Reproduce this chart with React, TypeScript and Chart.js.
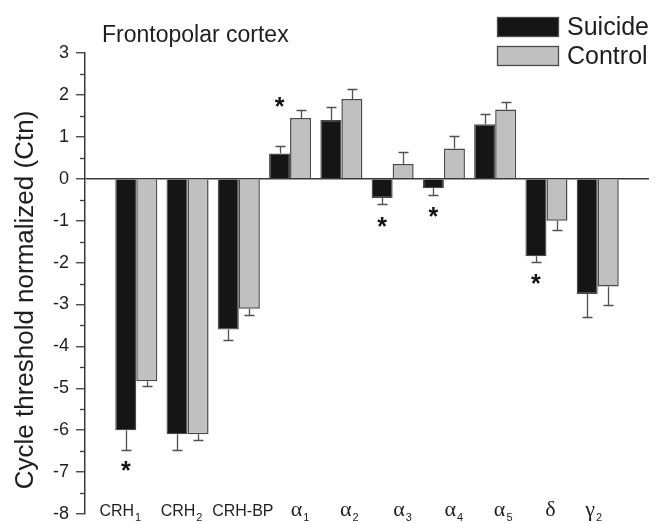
import React, { useEffect, useRef } from 'react';
import { Chart, registerables } from 'chart.js';

Chart.register(...registerables);

// ---------- data ----------
const categoryBase = ['CRH', 'CRH', 'CRH-BP', 'α', 'α', 'α', 'α', 'α', 'δ', 'γ'];
const categorySub = ['1', '2', '', '1', '2', '3', '4', '5', '', '2'];
const suicideValues = [-6.0, -6.1, -3.6, 0.6, 1.4, -0.46, -0.23, 1.3, -1.85, -2.75];
const suicideErrors = [0.48, 0.38, 0.24, 0.18, 0.3, 0.14, 0.16, 0.25, 0.14, 0.55];
const controlValues = [-4.83, -6.1, -3.1, 1.45, 1.9, 0.35, 0.72, 1.65, -1.0, -2.57];
const controlErrors = [0.12, 0.14, 0.15, 0.2, 0.23, 0.29, 0.31, 0.19, 0.23, 0.45];
const asteriskValues = [-6.85, null, null, 1.82, null, -1.04, -0.79, null, -2.4, null];
const seriesNames = ['Suicide', 'Control'];
const yMin = -8;
const yMax = 3;
const titleText = 'Frontopolar cortex';
const yTitleText = 'Cycle threshold normalized (Ctn)';

// ---------- style ----------
const SANS = "'Liberation Sans', Arial, Helvetica, sans-serif";
const SERIF = "'Liberation Serif', 'Times New Roman', serif";
const TEXT = '#1e1e1e';
const AXIS = '#3a3a3a';
const BLACK_FILL = '#151515';
const GRAY_FILL = '#c0c0c0';
const BAR_BORDER = '#4a4a4a';
const labelShift = [-16, -6, 4, 10, 8, 10, 10, 8, 4, -4];

const decorPlugin = {
  id: 'decor',
  afterDatasetsDraw(chart: any) {
    const ctx = chart.ctx;
    const ys = chart.scales.y;
    const sets: [number[], number[]][] = [
      [suicideValues, suicideErrors],
      [controlValues, controlErrors],
    ];
    ctx.save();
    ctx.strokeStyle = '#505050';
    ctx.lineWidth = 1.3;
    sets.forEach(([vals, errs], di) => {
      const meta = chart.getDatasetMeta(di);
      meta.data.forEach((bar: any, i: number) => {
        const v = vals[i];
        const e = errs[i];
        const end = v >= 0 ? v + e : v - e;
        const x = Math.round(bar.x) + 0.5;
        const y0 = ys.getPixelForValue(v);
        const y1 = Math.round(ys.getPixelForValue(end)) + 0.5;
        ctx.beginPath();
        ctx.moveTo(x, y0);
        ctx.lineTo(x, y1);
        ctx.moveTo(x - 5, y1);
        ctx.lineTo(x + 5, y1);
        ctx.stroke();
      });
    });
    ctx.restore();
  },
  afterDraw(chart: any) {
    const ctx = chart.ctx;
    const ys = chart.scales.y;
    const xs = chart.scales.x;
    const area = chart.chartArea;
    ctx.save();

    // minor ticks
    ctx.strokeStyle = AXIS;
    ctx.lineWidth = 1.3;
    for (let v = yMin + 0.5; v < yMax; v += 1) {
      const py = Math.round(ys.getPixelForValue(v)) + 0.5;
      ctx.beginPath();
      ctx.moveTo(area.left - 5, py);
      ctx.lineTo(area.left, py);
      ctx.stroke();
    }

    // asterisks
    ctx.fillStyle = '#111';
    ctx.font = `bold 25px ${SANS}`;
    ctx.textAlign = 'center';
    ctx.textBaseline = 'alphabetic';
    const meta0 = chart.getDatasetMeta(0);
    asteriskValues.forEach((v, i) => {
      if (v === null) return;
      const bar: any = meta0.data[i];
      const m = ctx.measureText('*');
      const py = ys.getPixelForValue(v);
      const base = py + (m.actualBoundingBoxAscent - m.actualBoundingBoxDescent) / 2;
      ctx.fillText('*', bar.x, base);
    });

    // category labels
    ctx.fillStyle = TEXT;
    ctx.textBaseline = 'alphabetic';
    ctx.textAlign = 'left';
    categoryBase.forEach((b, i) => {
      const greek = /[α-ω]/.test(b);
      const mainFont = greek ? `22px ${SERIF}` : `16px ${SANS}`;
      const subFont = `11px ${SANS}`;
      ctx.font = mainFont;
      const wMain = ctx.measureText(b).width;
      ctx.font = subFont;
      const sub = categorySub[i];
      const wSub = sub ? ctx.measureText(sub).width + 1 : 0;
      const cx = xs.getPixelForValue(i + 1) + labelShift[i];
      const left = cx - (wMain + wSub) / 2;
      const baseY = 516;
      ctx.font = mainFont;
      ctx.fillText(b, left, baseY);
      if (sub) {
        ctx.font = subFont;
        ctx.fillText(sub, left + wMain + 1, baseY + 5);
      }
    });

    // title
    ctx.font = `23px ${SANS}`;
    ctx.textAlign = 'left';
    ctx.fillText(titleText, 102, 42);

    // y-axis title
    ctx.save();
    ctx.translate(33, 300);
    ctx.rotate(-Math.PI / 2);
    ctx.font = `26px ${SANS}`;
    ctx.textAlign = 'center';
    ctx.textBaseline = 'alphabetic';
    ctx.fillText(yTitleText, 0, 0);
    ctx.restore();

    // legend
    const fills = [BLACK_FILL, GRAY_FILL];
    const boxTops = [17, 46];
    ctx.font = `25px ${SANS}`;
    ctx.textAlign = 'left';
    ctx.textBaseline = 'middle';
    seriesNames.forEach((name, i) => {
      ctx.fillStyle = fills[i];
      ctx.fillRect(497, boxTops[i], 62, 20);
      ctx.strokeStyle = BAR_BORDER;
      ctx.lineWidth = 1.3;
      ctx.strokeRect(497.5, boxTops[i] + 0.5, 61, 19);
      ctx.fillStyle = TEXT;
      ctx.fillText(name, 567, boxTops[i] + 11);
    });

    ctx.restore();
  },
};

export default function App() {
  const ref = useRef<HTMLCanvasElement | null>(null);

  useEffect(() => {
    if (!ref.current) return;
    const chart = new Chart(ref.current, {
      type: 'bar',
      data: {
        datasets: [
          {
            label: seriesNames[0],
            data: suicideValues.map((v, i) => ({ x: i + 1, y: v })),
            backgroundColor: BLACK_FILL,
            borderColor: BAR_BORDER,
            borderWidth: 1.3,
            borderSkipped: 'start',
          },
          {
            label: seriesNames[1],
            data: controlValues.map((v, i) => ({ x: i + 1, y: v })),
            backgroundColor: GRAY_FILL,
            borderColor: BAR_BORDER,
            borderWidth: 1.5,
            borderSkipped: 'start',
          },
        ],
      },
      options: {
        responsive: false,
        animation: false,
        events: [],
        layout: { padding: { left: 0, right: 7, top: 53, bottom: 9 } },
        datasets: {
          bar: { categoryPercentage: 0.82, barPercentage: 1.0 },
        },
        plugins: {
          legend: { display: false },
          tooltip: { enabled: false },
          title: { display: false },
        },
        scales: {
          x: {
            type: 'linear',
            min: 0,
            max: 11,
            display: false,
            offset: false,
          },
          y: {
            min: yMin,
            max: yMax,
            afterFit: (scale: any) => {
              scale.width = 85;
              scale.paddingTop = 0;
              scale.paddingBottom = 0;
            },
            border: { display: true, color: AXIS, width: 1.5 },
            grid: {
              drawOnChartArea: true,
              drawTicks: true,
              tickLength: 9,
              lineWidth: 1.5,
              color: (c: any) => (c.tick && c.tick.value === 0 ? AXIS : 'rgba(0,0,0,0)'),
              tickColor: (c: any) =>
                c.tick && Number.isInteger(c.tick.value) ? AXIS : 'rgba(0,0,0,0)',
              tickWidth: 1.3,
            },
            ticks: {
              stepSize: 0.5,
              autoSkip: false,
              padding: 7,
              color: TEXT,
              font: { size: 18, family: SANS },
              callback: (v: any) => (Number.isInteger(v) ? String(v) : ''),
            },
          },
        },
      },
      plugins: [decorPlugin],
    });
    return () => chart.destroy();
  }, []);

  return (
    <div style={{ position: 'fixed', left: 0, top: 0, width: 656, height: 523, background: '#fff' }}>
      <canvas ref={ref} width={656} height={523} style={{ display: 'block' }} />
    </div>
  );
}
